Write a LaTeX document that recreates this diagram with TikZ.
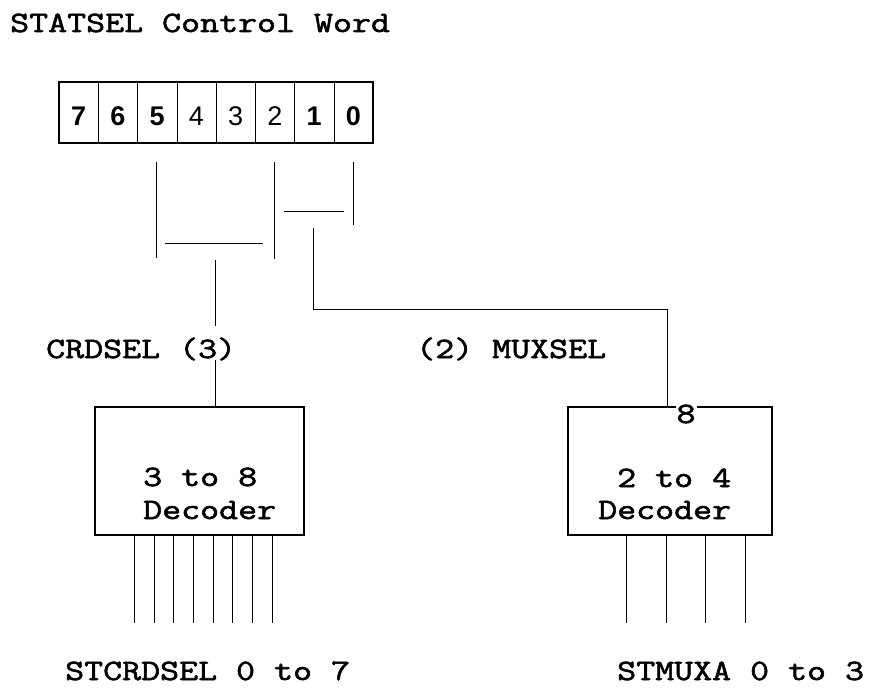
\documentclass[tikz,border=0pt]{standalone}
\usepackage{fontspec}
\newfontfamily\plotter{Latin Modern Mono}[FakeStretch=1.25,FakeBold=2]
\newfontfamily\digitfont{Liberation Sans}
\begin{document}
\begin{tikzpicture}[x=1pt,y=-1pt,
  lbl/.style={font=\plotter\fontsize{29.5}{30}\selectfont, inner sep=0pt, anchor=base west},
  bitnum/.style={font=\digitfont\fontsize{27}{27}\selectfont, inner sep=0pt},
  boldbit/.style={font=\digitfont\bfseries\fontsize{27}{27}\selectfont, inner sep=0pt},
  frame/.style={draw=black, line width=1.2pt},
  divider/.style={draw=black, line width=0.5pt},
  wire/.style={draw=black, line width=0.9pt},
  decbox/.style={draw=black, line width=1.2pt, inner sep=0pt, minimum height=128pt}
]
\useasboundingbox (0,0) rectangle (879,690);

% title
\node[lbl] (title) at (10,32) {STATSEL Control Word};

% control word register, bits 7..0
\draw[frame] (59,82) rectangle (373,143);
\foreach \i in {1,...,7}
  \draw[divider] (59+\i*39.25,82) -- (59+\i*39.25,143);
\node[boldbit] (b7) at ( 78.6,116) {7};
\node[boldbit] (b6) at (117.9,116) {6};
\node[boldbit] (b5) at (157.1,116) {5};
\node[bitnum]  (b4) at (196.4,116) {4};
\node[bitnum]  (b3) at (235.6,116) {3};
\node[bitnum]  (b2) at (274.9,116) {2};
\node[boldbit] (b1) at (314.1,116) {1};
\node[boldbit] (b0) at (353.4,116) {0};

% bit groupings
\coordinate (g5) at (156,162);
\coordinate (g2) at (274,162);
\coordinate (g0) at (353,162);
\draw[wire] (g5) -- ++(0,96);
\draw[wire] (g2) -- ++(0,97);
\draw[wire] (g0) -- ++(0,63);
\coordinate (crdbarL) at (165,243);
\coordinate (crdbarR) at (263,243);
\draw[wire] (crdbarL) -- (crdbarR);
\coordinate (muxbarL) at (284,211);
\coordinate (muxbarR) at (344,211);
\draw[wire] (muxbarL) -- (muxbarR);

% decoders
\node[decbox, minimum width=209pt] (dec38) at (199.5,471) {};
\node[decbox, minimum width=204pt] (dec24) at (670,471) {};

% labels
\node[lbl] (crdsel) at (46,358) {CRDSEL (3)};
\node[lbl] (muxsel) at (416,358) {(2) MUXSEL};

% CRDSEL bus
\coordinate (crdtop) at (215,260);
\draw[wire] (crdtop) -- (215,326);
\draw[wire] (215,360) -- (215,360 |- dec38.north);

% MUXSEL bus
\coordinate (muxtop) at (313,228);
\coordinate (muxturn) at (667,309);
\draw[wire] (muxtop) |- (muxturn) -- (muxturn |- dec24.north);

% decoder texts
\node[lbl] (t38a) at (143,486) {3 to 8};
\node[lbl] (t38b) at (143,519) {Decoder};
\node[lbl] (t24a) at (617,487) {2 to 4};
\node[lbl] (t24b) at (598,519) {Decoder};
\node[font=\plotter\fontsize{29.5}{30}\selectfont, fill=white, inner xsep=1pt, inner ysep=0pt] (eight) at (686,414) {8};

% decoder outputs
\foreach \i in {0,...,7}
  \draw[wire] ([xshift=40+\i*19.7]dec38.south west) -- ++(0,87);
\foreach \i in {0,...,3}
  \draw[wire] ([xshift=59+\i*39.67]dec24.south west) -- ++(0,87);

% output names
\node[lbl] (outcrd) at (65,680) {STCRDSEL 0 to 7};
\node[lbl] (outmux) at (617,680) {STMUXA 0 to 3};
\end{tikzpicture}
\end{document}
